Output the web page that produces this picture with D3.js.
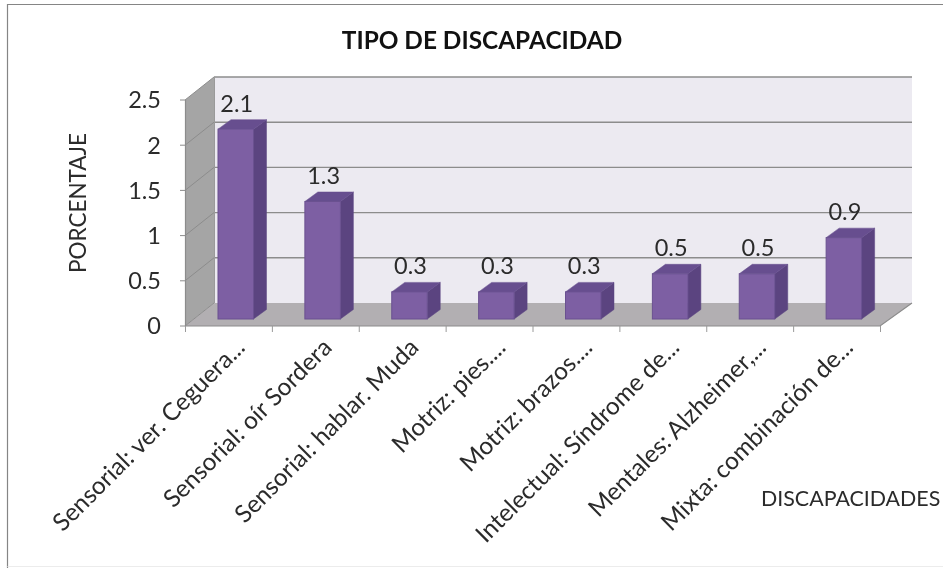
<!DOCTYPE html>
<html><head><meta charset="utf-8">
<script src="https://cdn.jsdelivr.net/npm/d3@7"></script>
<style>html,body{margin:0;background:#fff;overflow:hidden}svg{display:block;filter:blur(0.4px)}text{font-family:Lato,"Open Sans",sans-serif;fill:#2b2b2b}</style>
</head><body><svg id="c" width="943" height="568"></svg>
<script>
const categories=["Sensorial: ver. Ceguera...","Sensorial: oír Sordera","Sensorial: hablar. Muda","Motriz: pies....","Motriz: brazos....","Intelectual: Síndrome de...","Mentales: Alzheimer,...","Mixta: combinación de..."];
const values=[2.1,1.3,0.3,0.3,0.3,0.5,0.5,0.9];
const yTicks=[0,0.5,1,1.5,2,2.5];
const title="TIPO DE DISCAPACIDAD", yTitle="PORCENTAJE", xTitle="DISCAPACIDADES";
const svg=d3.select("#c");
const X0=185,X1=880,Y0=326,Y1=100,DX=29,DY=23;
const x=d3.scaleBand().domain(categories).range([X0,X1]).paddingInner(0).paddingOuter(0);
const y=d3.scaleLinear().domain([0,2.5]).range([Y0,Y1]);
// frame
svg.append("path").attr("d","M7.5,568V4.5H943").attr("fill","none").attr("stroke","#858585").attr("stroke-width",1.2);
svg.append("path").attr("d","M7.5,566.5H943").attr("fill","none").attr("stroke","#ececec");
// back wall
svg.append("rect").attr("x",X0+DX).attr("y",y(2.5)-DY).attr("width",X1+3-X0).attr("height",Y0-Y1).attr("fill","#eceaf1");
// side wall
svg.append("polygon").attr("points",[[X0,Y1],[X0+DX,Y1-DY],[X0+DX,Y0-DY],[X0,Y0]].join(" ")).attr("fill","#a5a5a5");
// floor
svg.append("polygon").attr("points",[[X0,Y0],[X0+DX,Y0-DY],[X1+DX+3,Y0-DY],[X1,Y0]].join(" ")).attr("fill","#b2afb2");
// gridlines
svg.selectAll("line.g").data(yTicks).join("line").attr("x1",X0+DX).attr("x2",X1+DX+3).attr("y1",d=>y(d)-DY).attr("y2",d=>y(d)-DY).attr("stroke","#8c8c8c").attr("stroke-width",d=>d?1.4:0);
svg.selectAll("path.gs").data(yTicks).join("path").attr("d",d=>`M${X0},${y(d)}L${X0+DX},${y(d)-DY}`).attr("stroke","#8c8c8c").attr("fill","none");
// axis frame lines
svg.append("path").attr("d",`M${X0+.5},${Y1}V${Y0}H${X1}L${X1+DX+3},${Y0-DY}`).attr("fill","none").attr("stroke","#8c8c8c").attr("stroke-width",1.2);
svg.append("path").attr("d",`M${X0+DX+.5},${Y1-DY}V${Y0-DY}`).attr("fill","none").attr("stroke","#9a9a9a");
// y ticks + labels
svg.selectAll("line.yt").data(yTicks).join("line").attr("x1",X0-5).attr("x2",X0).attr("y1",y).attr("y2",y).attr("stroke","#8c8c8c");
svg.selectAll("text.yl").data(yTicks).join("text").attr("x",X0-24).attr("y",d=>y(d)).attr("dy","0.36em").attr("text-anchor","end").attr("font-size",23.5).text(d=>d);
// x ticks
svg.selectAll("line.xt").data(d3.range(categories.length+1)).join("line").attr("x1",i=>X0+i*x.step()+.5).attr("x2",i=>X0+i*x.step()+.5).attr("y1",Y0).attr("y2",Y0+6).attr("stroke","#9a9a9a");
// bars
const bw=35.5,off=33,bdx=13,bdy=9.5,lift=7;
const g=svg.selectAll("g.b").data(categories.map((c,i)=>({c,v:values[i]}))).join("g").attr("class","b");
const bx=d=>x(d.c)+off, ty=d=>y(d.v)-lift, by=Y0-lift;
g.append("polygon").attr("fill","#5b4480").attr("stroke","#5b4480").attr("stroke-width",.5).attr("points",d=>[[bx(d)+bw,ty(d)],[bx(d)+bw+bdx,ty(d)-bdy],[bx(d)+bw+bdx,by-bdy],[bx(d)+bw,by]].join(" "));
g.append("polygon").attr("fill","#674e8f").attr("stroke","#674e8f").attr("stroke-width",.5).attr("points",d=>[[bx(d),ty(d)],[bx(d)+bdx,ty(d)-bdy],[bx(d)+bw+bdx,ty(d)-bdy],[bx(d)+bw,ty(d)]].join(" "));
g.append("rect").attr("x",bx).attr("y",ty).attr("width",bw).attr("height",d=>by-ty(d)).attr("fill","#7d5fa3").attr("stroke","#6a5190").attr("stroke-width",1);
g.append("text").attr("x",d=>bx(d)+bw/2+1).attr("y",d=>ty(d)-17.5).attr("text-anchor","middle").attr("font-size",23.5).text(d=>d.v);
// category labels
svg.selectAll("text.cl").data(categories).join("text").attr("text-anchor","end").attr("font-size",24.4)
 .attr("transform",d=>`translate(${x(d)+x.bandwidth()/2+18},${Y0+23}) rotate(-45)`).text(d=>d);
// titles
svg.append("text").attr("x",482).attr("y",49).attr("text-anchor","middle").attr("font-size",24.4).attr("font-weight",700).attr("style","fill:#111").text(title);
svg.append("text").attr("transform","translate(86,203) rotate(-90)").attr("text-anchor","middle").attr("font-size",22.5).text(yTitle);
svg.append("text").attr("x",761).attr("y",506).attr("text-anchor","start").attr("font-size",21.4).text(xTitle);
</script></body></html>
